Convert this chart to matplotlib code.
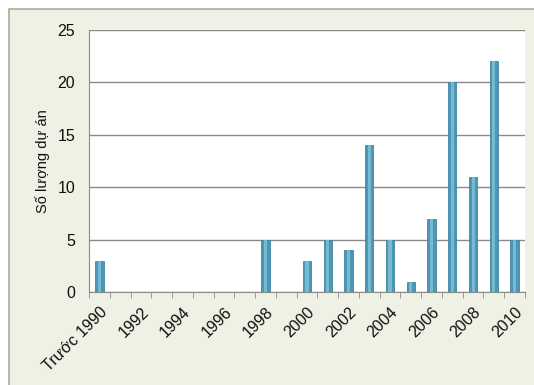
import numpy as np
import matplotlib
matplotlib.use('Agg')
import matplotlib.pyplot as plt
from matplotlib.patches import Rectangle

categories = ["Trước 1990"] + [str(y) for y in range(1991, 2011)]
values = [3, 0, 0, 0, 0, 0, 0, 0, 5, 0, 3, 5, 4, 14, 5, 1, 7, 20, 11, 22, 5]
yticks = [0, 5, 10, 15, 20, 25]

plt.rcParams['font.family'] = ['Liberation Sans', 'DejaVu Sans']

fig = plt.figure(figsize=(5.34, 3.85), dpi=100)
fig.patch.set_facecolor('white')
# nền ngoài màu xanh nhạt
bg = Rectangle((9 / 534, -0.01), 1.0, 1 - 9 / 385 + 0.01,
               transform=fig.transFigure, facecolor='#eef1e3',
               edgecolor='#a9aca3', linewidth=1.2, zorder=-5)
fig.add_artist(bg)

ax = fig.add_axes([89 / 534, 1 - 292 / 385, 436 / 534, 262 / 385])
ax.set_zorder(2)
ax.set_facecolor('white')

x = np.arange(len(categories))
# cột có hiệu ứng sáng ở giữa
ax.bar(x, values, width=0.4, color='#4c97b7', edgecolor='#3f85a3',
       linewidth=0.6, zorder=3)
ax.bar(x, values, width=0.15, color='#78b9d2', linewidth=0, zorder=4)

ax.set_xlim(-0.5, len(categories) - 0.5)
ax.set_ylim(0, 25)
ax.set_yticks(yticks)
ax.set_yticklabels([str(v) for v in yticks], fontsize=11.5, color='#111111')
ax.tick_params(axis='y', length=0, pad=10)
ax.grid(axis='y', color='#8a8a8a', linewidth=1.0, zorder=1)

ax.set_xticks(x[::2])
ax.set_xticklabels(categories[::2], rotation=45, ha='right',
                   rotation_mode='anchor', fontsize=11.5, color='#111111')
ax.set_xticks(np.arange(-0.5, len(categories), 1), minor=True)
ax.tick_params(axis='x', which='major', length=0, pad=9)
ax.tick_params(axis='x', which='minor', length=4, color='#8a8a8a')

for s in ['top', 'right']:
    ax.spines[s].set_visible(False)
ax.spines['left'].set_color('#8a8a8a')
ax.spines['bottom'].set_color('#8a8a8a')

ax.set_ylabel("Số lượng dự án", fontsize=10.5, color='#111111', labelpad=5)

fig.savefig('out.png', dpi=100)
